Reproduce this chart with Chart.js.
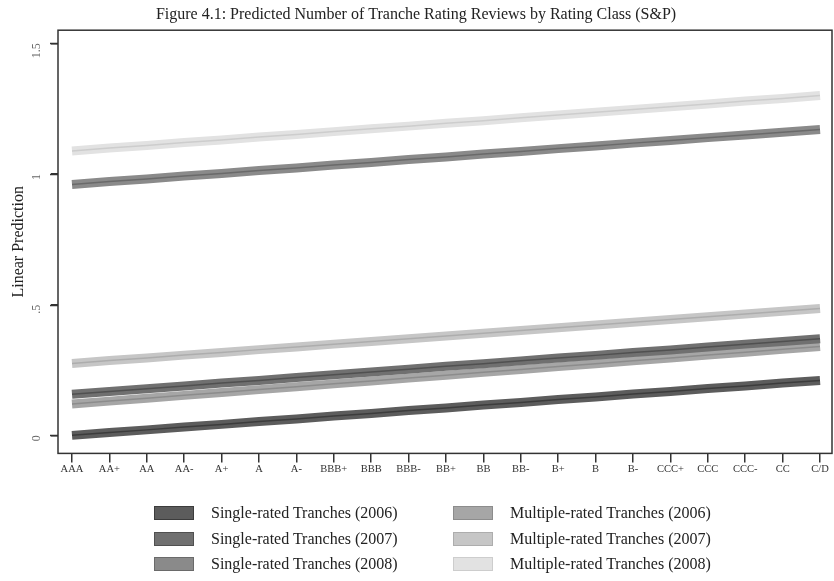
<!DOCTYPE html>
<html>
<head>
<meta charset="utf-8">
<script src="https://cdn.jsdelivr.net/npm/chart.js@4"></script>
<style>
body { margin: 0; background: #fff; }
#wrap { position: relative; width: 834px; height: 581px; }
#chart-box { position: absolute; left: 0; top: 0; width: 834px; height: 485px; }
#legend { position: absolute; left: 0; top: 0; width: 834px; height: 581px; pointer-events: none;
          font-family: "Liberation Serif", "DejaVu Serif", serif; font-size: 16px; color: #222; }
.item { position: absolute; display: flex; align-items: center; height: 20px; white-space: nowrap; }
.swatch { width: 38px; height: 12px; border: 1px solid; margin-right: 17px; }
</style>
</head>
<body>
<div id="wrap">
  <div id="chart-box"><canvas id="main-graph"></canvas></div>
  <div id="legend"></div>
</div>
<script>
// rating classes along the x axis
const rating_classes = ["AAA", "AA+", "AA", "AA-", "A+", "A", "A-", "BBB+", "BBB", "BBB-",
    "BB+", "BB", "BB-", "B+", "B", "B-", "CCC+", "CCC", "CCC-", "CC", "C/D"];

const y_ticks = [0, 0.5, 1, 1.5];

// linear predictions
const single_2006 = [0.000, 0.011, 0.021, 0.032, 0.042, 0.053, 0.063, 0.074, 0.084, 0.095, 0.105,
    0.116, 0.126, 0.137, 0.147, 0.158, 0.168, 0.179, 0.189, 0.200, 0.210];
const single_2007 = [0.157, 0.168, 0.178, 0.189, 0.200, 0.210, 0.221, 0.232, 0.242, 0.253, 0.264,
    0.274, 0.285, 0.296, 0.306, 0.317, 0.327, 0.338, 0.349, 0.359, 0.370];
const single_2008 = [0.960, 0.971, 0.981, 0.992, 1.002, 1.013, 1.023, 1.034, 1.044, 1.055, 1.065,
    1.076, 1.086, 1.097, 1.107, 1.118, 1.128, 1.139, 1.149, 1.160, 1.170];
const multiple_2006 = [0.120, 0.131, 0.142, 0.153, 0.164, 0.175, 0.186, 0.197, 0.208, 0.219, 0.230,
    0.241, 0.252, 0.263, 0.274, 0.285, 0.296, 0.307, 0.318, 0.329, 0.340];
const multiple_2007 = [0.275, 0.286, 0.296, 0.307, 0.317, 0.328, 0.338, 0.349, 0.359, 0.370, 0.380,
    0.391, 0.401, 0.412, 0.422, 0.433, 0.443, 0.454, 0.464, 0.475, 0.485];
const multiple_2008 = [1.088, 1.099, 1.109, 1.120, 1.130, 1.141, 1.151, 1.162, 1.173, 1.183, 1.194,
    1.204, 1.215, 1.226, 1.236, 1.247, 1.257, 1.268, 1.279, 1.289, 1.300];

const series_labels = ["Single-rated Tranches (2006)", "Single-rated Tranches (2007)", "Single-rated Tranches (2008)",
    "Multiple-rated Tranches (2006)", "Multiple-rated Tranches (2007)", "Multiple-rated Tranches (2008)"];
const series_values = [single_2006, single_2007, single_2008, multiple_2006, multiple_2007, multiple_2008];

const band_colors = ["#5c5c5c", "#707070", "#8a8a8a", "#a6a6a6", "#c6c6c6", "#e2e2e2"];
const line_colors = ["#3c3c3c", "#505050", "#6a6a6a", "#8c8c8c", "#adadad", "#cdcdcd"];

const serif = "'Liberation Serif', 'DejaVu Serif', serif";

function toPoints(values)
{
    return values.map(function(v, k) { return {x: k, y: v}; });
}

let datasets = [];
// center lines first so they end up on top
for (let i = 0; i < series_values.length; i++)
{
    datasets.push({
        label: series_labels[i] + " line",
        data: toPoints(series_values[i]),
        borderColor: line_colors[i],
        borderWidth: 1.5,
        pointRadius: 0,
        fill: false
    });
}
for (let i = 0; i < series_values.length; i++)
{
    datasets.push({
        label: series_labels[i],
        data: toPoints(series_values[i]),
        borderColor: band_colors[i],
        borderWidth: 9,
        borderCapStyle: "butt",
        pointRadius: 0,
        fill: false
    });
}

// plot region box (stata draws a full frame) + y tick marks
const frame_plugin = {
    id: "frame",
    afterDatasetsDraw(chart)
    {
        const a = chart.chartArea;
        const ctx = chart.ctx;
        const y = chart.scales.y;
        ctx.save();
        ctx.strokeStyle = "#333";
        ctx.lineWidth = 1.5;
        ctx.strokeRect(a.left, a.top, a.right - a.left, a.bottom - a.top);
        ctx.beginPath();
        for (const v of y_ticks)
        {
            const py = Math.round(y.getPixelForValue(v)) + 0.5;
            ctx.moveTo(a.left - 8, py);
            ctx.lineTo(a.left, py);
        }
        ctx.stroke();
        ctx.restore();
    }
};

const main_graph = document.getElementById("main-graph");
const chart = new Chart(main_graph, {
    type: "line",
    data: { datasets: datasets },
    plugins: [frame_plugin],
    options: {
        responsive: true,
        maintainAspectRatio: false,
        animation: false,
        layout: { padding: { left: 0, right: 2, top: 0, bottom: 8 } },
        plugins: {
            legend: { display: false },
            tooltip: { enabled: false },
            title: {
                display: true,
                text: "Figure 4.1: Predicted Number of Tranche Rating Reviews by Rating Class (S&P)",
                color: "#222",
                font: { family: serif, size: 16, weight: "normal" },
                padding: { top: 5, bottom: 6 }
            }
        },
        scales: {
            x: {
                type: "linear",
                min: -0.374,
                max: 20.32,
                afterBuildTicks: function(scale) {
                    scale.ticks = rating_classes.map(function(c, k) { return {value: k}; });
                },
                ticks: {
                    autoSkip: false,
                    maxRotation: 0,
                    minRotation: 0,
                    color: "#333",
                    font: { family: serif, size: 10.5 },
                    padding: 1,
                    callback: function(v) { return rating_classes[v]; }
                },
                grid: { drawOnChartArea: false, drawTicks: true, tickLength: 9, color: "#333", lineWidth: 1.5 },
                border: { display: false }
            },
            y: {
                min: -0.069,
                max: 1.55,
                afterBuildTicks: function(scale) {
                    scale.ticks = y_ticks.map(function(v) { return {value: v}; });
                },
                afterFit: function(scale) {
                    scale.width = 58;
                },
                ticks: {
                    minRotation: 90,
                    maxRotation: 90,
                    color: "#666",
                    font: { family: serif, size: 12 },
                    padding: 14,
                    callback: function(v) { return v === 0 ? "0" : String(v).replace(/^0/, ""); }
                },
                title: {
                    display: true,
                    text: "Linear Prediction",
                    color: "#222",
                    font: { family: serif, size: 16 },
                    padding: { top: 9, bottom: 0 }
                },
                grid: { drawOnChartArea: false, drawTicks: true, tickLength: 7, color: "#333", lineWidth: 1.5 },
                border: { display: false }
            }
        }
    }
});

// two-column legend below the plot, built from the band datasets
const legend_div = document.getElementById("legend");
const col_left = [154, 453];
const row_top = [503, 529, 554];
for (let i = 0; i < series_labels.length; i++)
{
    const col = i < 3 ? 0 : 1;
    const row = i % 3;
    const item = document.createElement("div");
    item.className = "item";
    item.style.left = col_left[col] + "px";
    item.style.top = row_top[row] + "px";
    const sw = document.createElement("div");
    sw.className = "swatch";
    sw.style.background = band_colors[i];
    sw.style.borderColor = line_colors[i];
    const txt = document.createElement("span");
    txt.textContent = series_labels[i];
    item.appendChild(sw);
    item.appendChild(txt);
    legend_div.appendChild(item);
}
</script>
</body>
</html>
